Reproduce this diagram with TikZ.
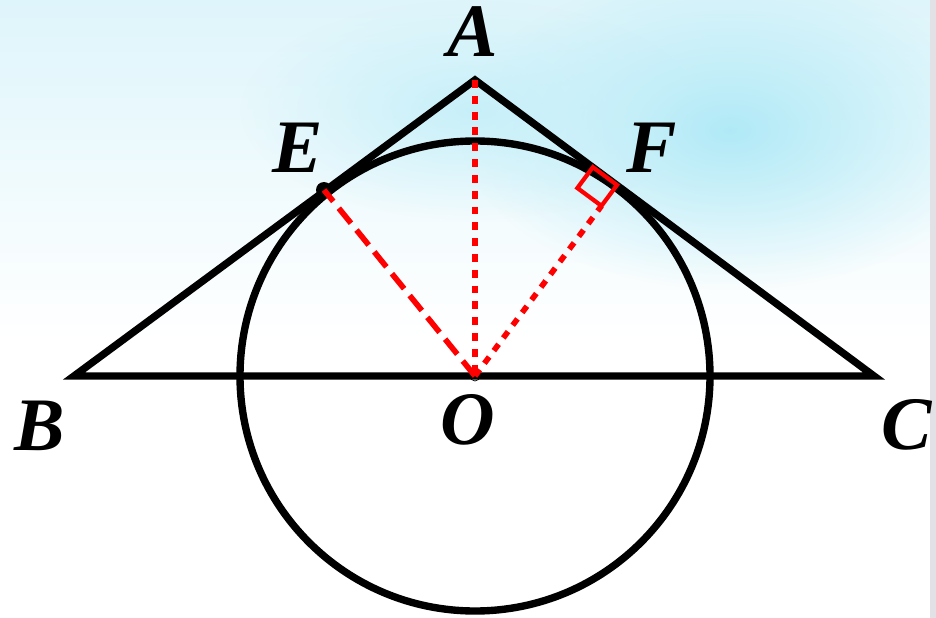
\documentclass[tikz,border=0pt]{standalone}
\usepackage{fontspec}
\setmainfont{Liberation Serif}
\usetikzlibrary{calc,fadings}
\definecolor{skypale}{RGB}{222,245,251}
\definecolor{skyblob}{RGB}{170,232,246}
\definecolor{edgegray}{RGB}{226,226,230}
\tikzfading[name=softglow, inner color=transparent!10, outer color=transparent!100]

\begin{document}
\begin{tikzpicture}[x=0.02cm, y=-0.02cm,
    seg/.style={line width=4.2pt, line join=miter},
    aux/.style={red, line width=3.2pt},
    dots/.style={aux, dash pattern=on 4.5pt off 4.5pt},
    lbl/.style={font=\fontsize{43}{43}\selectfont\bfseries\itshape, inner sep=0pt}]
    % background
    \useasboundingbox (0,0) rectangle (936,618);
    \fill[white] (0,0) rectangle (936,618);
    \shade[top color=skypale, bottom color=white] (0,0) rectangle (936,340);
    \fill[skyblob, path fading=softglow] (730,130) ellipse (270 and 160);
    \fill[skyblob!70, path fading=softglow] (470,110) ellipse (230 and 110);
    \fill[edgegray] (930,0) rectangle (936,618);
    % points
    \coordinate (A) at (475,80);
    \coordinate (B) at (74,376);
    \coordinate (C) at (874,376);
    \coordinate (O) at (475,376);
    \coordinate (E) at (324,190);
    \coordinate (F) at (617,185);
    \coordinate (Fa) at ($(F)!0.6cm!(A)$);
    \coordinate (Fo) at ($(F)!0.52cm!(O)$);
    % figure
    \draw[seg] (O) circle (235);
    \draw[seg] (B) -- (A) -- (C) -- cycle;
    \fill (E) circle (8);
    \draw[thin] (O) circle (5);
    \draw[dots] (A) -- (O);
    \draw[aux, dash pattern=on 11pt off 5pt] (O) -- (E);
    \draw[dots] (O) -- (Fo);
    \draw[red, line width=2.4pt] (F) -- (Fa) -- ($(Fa)+(Fo)-(F)$) -- (Fo) -- cycle;
    % labels
    \node[lbl] (lA) at (473,32) {A};
    \node[lbl] (lB) at (40,426) {B};
    \node[lbl] (lC) at (907,425) {C};
    \node[lbl] (lO) at (468,420) {O};
    \node[lbl] (lE) at (298,148) {E};
    \node[lbl] (lF) at (652,148) {F};
\end{tikzpicture}
\end{document}
